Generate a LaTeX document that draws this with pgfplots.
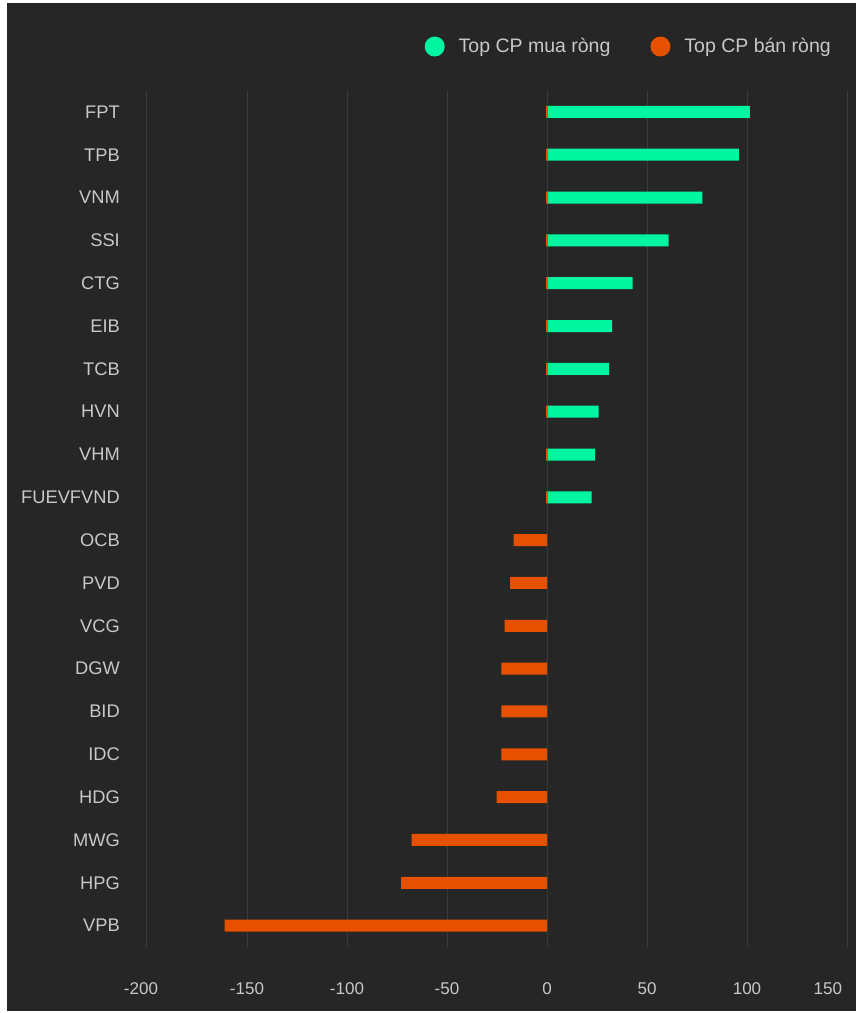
\documentclass[border=0pt]{standalone}
\usepackage{fontspec}
\setmainfont{Liberation Sans}
\usepackage{pgfplots}
\pgfplotsset{compat=1.18}
\definecolor{bgc}{HTML}{262626}
\definecolor{gridc}{HTML}{3A3A3A}
\definecolor{txt}{HTML}{C8C8C8}
\definecolor{buy}{HTML}{00F5A0}
\definecolor{sell}{HTML}{E65100}
\begin{document}
\begin{tikzpicture}[x=1pt,y=1pt]
\useasboundingbox (0,0) rectangle (856,1013);
\fill[white] (0,0) rectangle (856,1013);
\fill[bgc] (7,2) rectangle (856,1010);
\begin{axis}[
  at={(147pt,66pt)}, anchor=south west,
  scale only axis, width=700pt, height=856.5pt,
  xbar, bar width=12pt, bar shift=0pt,
  xmin=-200, xmax=150, ymin=-0.5, ymax=19.5, y dir=reverse,
  axis line style={draw=none}, major tick length=0pt,
  xmajorgrids, grid style={gridc, line width=1pt},
  xtick={-200,-150,-100,-50,0,50,100,150},
  xticklabels={{\makebox[0pt][c]{-200\kern12pt}},-150,-100,-50,0,50,100,{\makebox[0pt][r]{150\kern5pt}}},
  xticklabel style={anchor=base, yshift=-47pt, text=txt, font=\fontsize{17pt}{20pt}\selectfont},
  ytick={0,...,19},
  yticklabels={FPT,TPB,VNM,SSI,CTG,EIB,TCB,HVN,VHM,FUEVFVND,OCB,PVD,VCG,DGW,BID,IDC,HDG,MWG,HPG,VPB},
  yticklabel style={anchor=east, inner sep=0pt, xshift=-27pt, text=txt, font=\fontsize{18.3pt}{20pt}\selectfont},
  legend columns=2,
  legend style={at={(1,1)}, anchor=east, xshift=-11pt, yshift=44pt, draw=none, fill=none,
    text=txt, font=\fontsize{19.5pt}{22pt}\selectfont,
    /tikz/every even column/.append style={column sep=38pt}},
]
\addplot[fill=buy, draw=none, legend image code/.code={\fill[buy] (0pt,0pt) circle (10pt); \path[draw=none] (-10pt,0pt) (22pt,0pt);}]
 coordinates {(101.4,0) (95.9,1) (77.7,2) (60.8,3) (42.8,4) (32.5,5) (31.0,6) (25.8,7) (24.0,8) (22.3,9)};
\addplot[fill=sell, draw=none, legend image code/.code={\fill[sell] (0pt,0pt) circle (10pt); \path[draw=none] (-10pt,0pt) (22pt,0pt);}]
 coordinates {(-16.7,10) (-18.5,11) (-21.2,12) (-22.8,13) (-22.8,14) (-22.8,15) (-25.2,16) (-67.7,17) (-73.0,18) (-161.2,19)};
\addplot[forget plot, fill=sell, draw=sell, line width=2pt]
 coordinates {(0,0) (0,1) (0,2) (0,3) (0,4) (0,5) (0,6) (0,7) (0,8) (0,9)};
\legend{Top CP mua ròng, Top CP bán ròng}
\end{axis}
\end{tikzpicture}
\end{document}
